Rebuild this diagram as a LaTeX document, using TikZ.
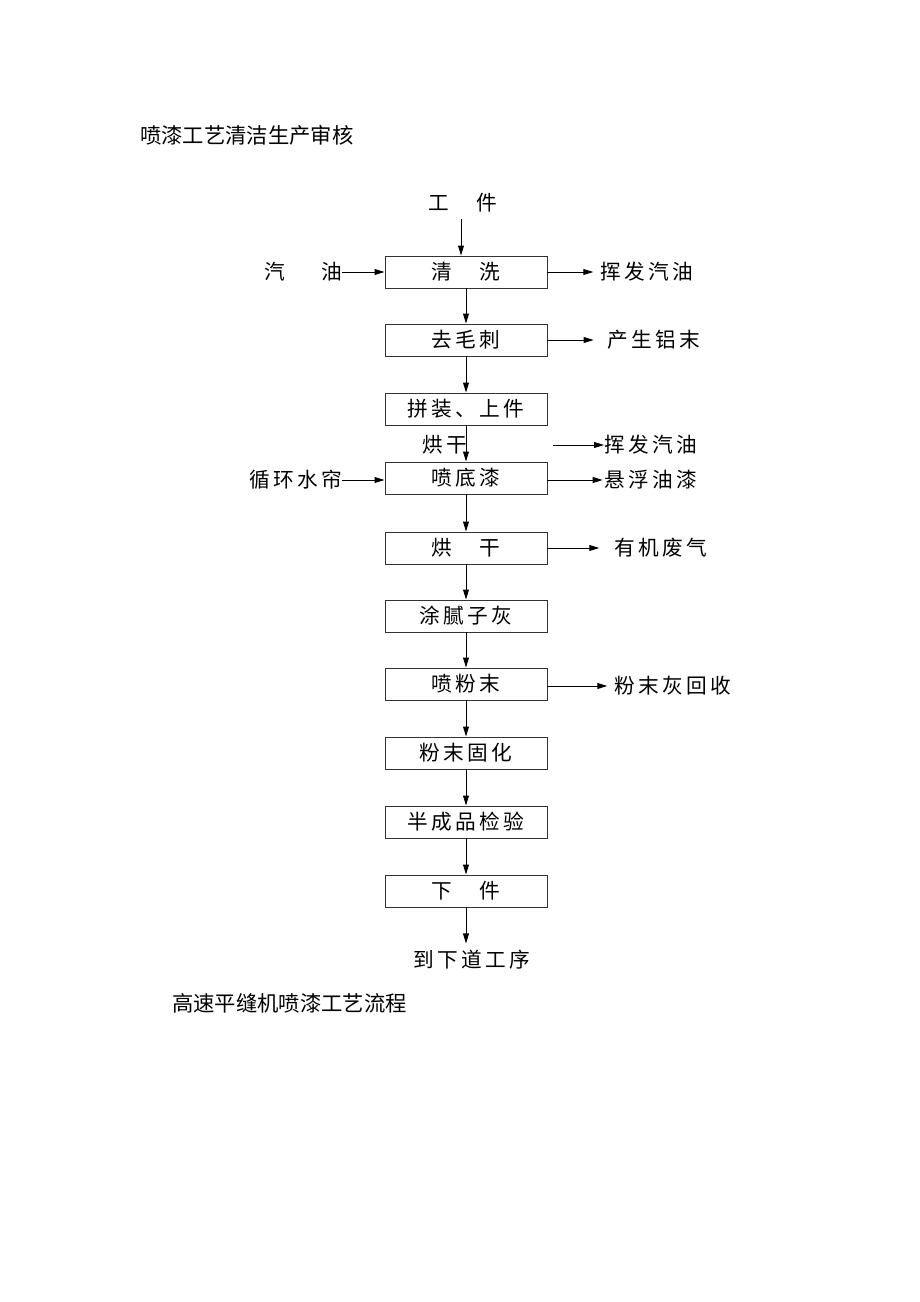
\documentclass[tikz,border=0pt]{standalone}
\usepackage{fontspec}
\newfontfamily\cjk{Noto Sans CJK SC}
\newfontfamily\cjks[LetterSpace=16]{Noto Sans CJK SC}
\usetikzlibrary{arrows.meta}
\begin{document}
\begin{tikzpicture}[x=0.75pt,y=-0.75pt,
  box/.style={draw=black!80,line width=0.65pt,minimum width=121.5pt,minimum height=24pt,inner sep=0pt,font=\cjks\fontsize{15.5}{18}\selectfont},
  lbl/.style={inner sep=0pt,font=\cjks\fontsize{15.5}{18}\selectfont},
  captxt/.style={inner sep=0pt,anchor=west,font=\cjk\fontsize{16}{18}\selectfont},
  arr/.style={-{Triangle[length=7.5pt,width=4.4pt]},line width=0.7pt}]
\useasboundingbox (0,0) rectangle (920,1302);
\fill[white] (0,0) rectangle (920,1302);

\node[captxt] (title) at (140,135) {喷漆工艺清洁生产审核};
\node[captxt] (caption) at (172,1003) {高速平缝机喷漆工艺流程};

% main boxes
\node[box] (b1) at (466,272) {清　洗};
\node[box] (b2) at (466,340) {去毛刺};
\node[box] (b3) at (466,409) {拼装、上件};
\node[box] (b4) at (466,478) {喷底漆};
\node[box] (b5) at (466,548) {烘　干};
\node[box] (b6) at (466,616) {涂腻子灰};
\node[box] (b7) at (466,684) {喷粉末};
\node[box] (b8) at (466,753) {粉末固化};
\node[box] (b9) at (466,822) {半成品检验};
\node[box] (b10) at (466,891) {下　件};

\draw[arr] (b1.south) -- (b2.north);
\draw[arr] (b2.south) -- (b3.north);
\draw[arr] (b3.south) -- (b4.north);
\draw[arr] (b4.south) -- (b5.north);
\draw[arr] (b5.south) -- (b6.north);
\draw[arr] (b6.south) -- (b7.north);
\draw[arr] (b7.south) -- (b8.north);
\draw[arr] (b8.south) -- (b9.north);
\draw[arr] (b9.south) -- (b10.north);

% input at top
\node[lbl] (gj) at (463,203) {工　件};
\draw[arr] ([yshift=-5pt]gj.south -| 461,0) -- (461,0 |- b1.north);

% bottom output
\node[lbl] (dx) at (472,960) {到下道工序};
\draw[arr] (b10.south) -- ([yshift=5pt]b10.south |- dx.north);

% row 1
\node[lbl,anchor=east] (qy) at (342,272) {汽\hspace{27pt}油};
\draw[arr] (qy.east) -- (b1.west);
\node[lbl,anchor=west] (hf1) at (600,272) {挥发汽油};
\draw[arr] (b1.east) -- ([xshift=-5pt]hf1.west);

% row 2
\node[lbl,anchor=west] (al) at (607,340) {产生铝末};
\draw[arr] (b2.east) -- ([xshift=-10pt]al.west);

% between row 3 and 4
\node[lbl,anchor=east] (hg) at (467,445) {烘干};
\coordinate (h2s) at (553,445);
\node[lbl,anchor=west] (hf2) at (604,445) {挥发汽油};
\draw[arr] (h2s) -- (hf2.west);

% row 4
\node[lbl,anchor=east] (xh) at (342,480) {循环水帘};
\draw[arr] (xh.east) -- (xh.east -| b4.west);
\node[lbl,anchor=west] (xf) at (604,480) {悬浮油漆};
\draw[arr] (xf.west -| b4.east) -- ([xshift=-1pt]xf.west);

% row 5
\node[lbl,anchor=west] (yj) at (614,548) {有机废气};
\draw[arr] (b5.east) -- ([xshift=-11pt]yj.west);

% row 7
\node[lbl,anchor=west] (fm) at (614,686) {粉末灰回收};
\draw[arr] (fm.west -| b7.east) -- ([xshift=-5pt]fm.west);
\end{tikzpicture}
\end{document}
